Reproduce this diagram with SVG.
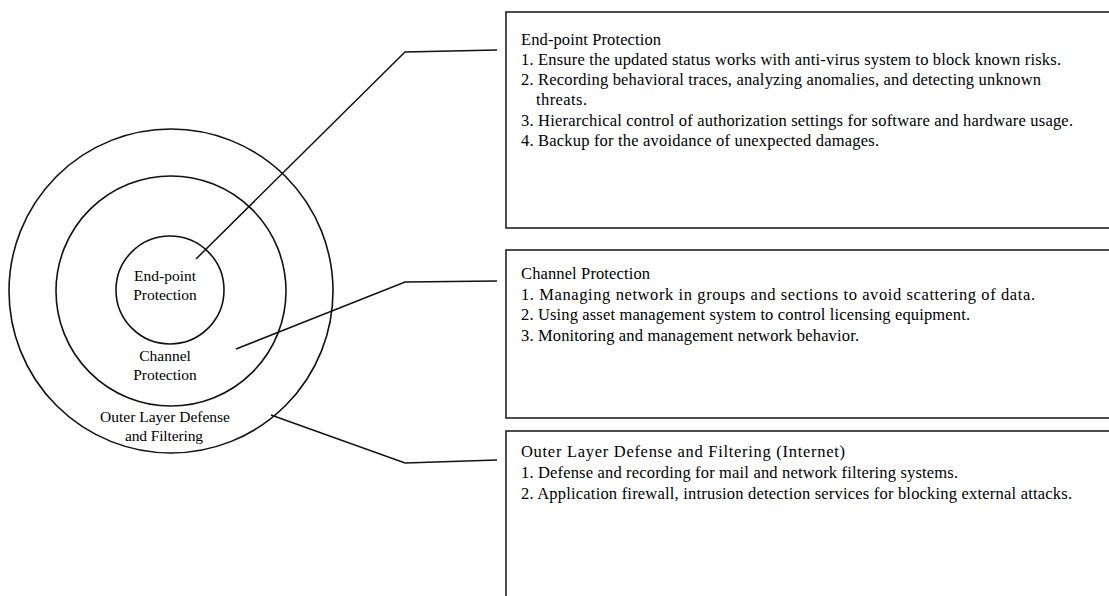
<svg xmlns="http://www.w3.org/2000/svg" width="1109" height="596" viewBox="0 0 1109 596">
<style>
.ring{fill:none;stroke:#111;stroke-width:1.6}
.box{fill:#fff;stroke:#222;stroke-width:1.6}
.conn{fill:none;stroke:#111;stroke-width:1.5}
text{font-family:"Liberation Serif","Times New Roman",serif;font-size:16.5px;fill:#000}
.c{text-anchor:middle;font-size:15.5px}
</style>
<rect width="1109" height="596" fill="#fff"/>
<g id="outer-ring"><circle class="ring" cx="171" cy="291" r="162"/><text class="c" x="165" y="422" textLength="130">Outer Layer Defense</text><text class="c" x="164" y="441" textLength="78">and Filtering</text></g>
<g id="channel-ring"><circle class="ring" cx="171" cy="291" r="115"/><text class="c" x="165" y="361">Channel</text><text class="c" x="165" y="380">Protection</text></g>
<g id="endpoint-ring"><circle class="ring" cx="170" cy="290" r="54"/><text class="c" x="165" y="281">End-point</text><text class="c" x="165" y="300">Protection</text></g>
<g id="connectors">
<polyline class="conn" points="196,259 405,52 497,50"/>
<polyline class="conn" points="236,349 405,282 497,281"/>
<polyline class="conn" points="271,415 405,463 497,460"/>
</g>
<g id="box-endpoint"><rect class="box" x="506" y="12" width="620" height="216"/>
<text x="521" y="45" textLength="140">End-point  Protection</text>
<text x="521" y="65" textLength="540">1. Ensure the updated status works with anti-virus  system to block known risks.</text>
<text x="521" y="85" textLength="520">2. Recording behavioral  traces, analyzing  anomalies,  and detecting unknown</text>
<text x="536" y="105" textLength="51">threats.</text>
<text x="521" y="126" textLength="552">3. Hierarchical control  of authorization  settings for software and hardware usage.</text>
<text x="521" y="146" textLength="358">4. Backup for the avoidance of unexpected damages.</text>
</g>
<g id="box-channel"><rect class="box" x="506" y="250" width="620" height="168"/>
<text x="521" y="279" textLength="129">Channel Protection</text>
<text x="521" y="300" textLength="514">1. Managing  network in groups and sections to avoid scattering of data.</text>
<text x="521" y="320" textLength="449">2. Using asset management system to control licensing  equipment.</text>
<text x="521" y="341" textLength="338">3. Monitoring  and management network behavior.</text>
</g>
<g id="box-outer"><rect class="box" x="506" y="431" width="620" height="200"/>
<text x="521" y="457" textLength="324">Outer Layer Defense and Filtering  (Internet)</text>
<text x="521" y="478" textLength="437">1. Defense and recording  for mail  and network filtering  systems.</text>
<text x="521" y="499" textLength="551">2. Application  firewall,  intrusion  detection services for blocking  external attacks.</text>
</g>
</svg>
